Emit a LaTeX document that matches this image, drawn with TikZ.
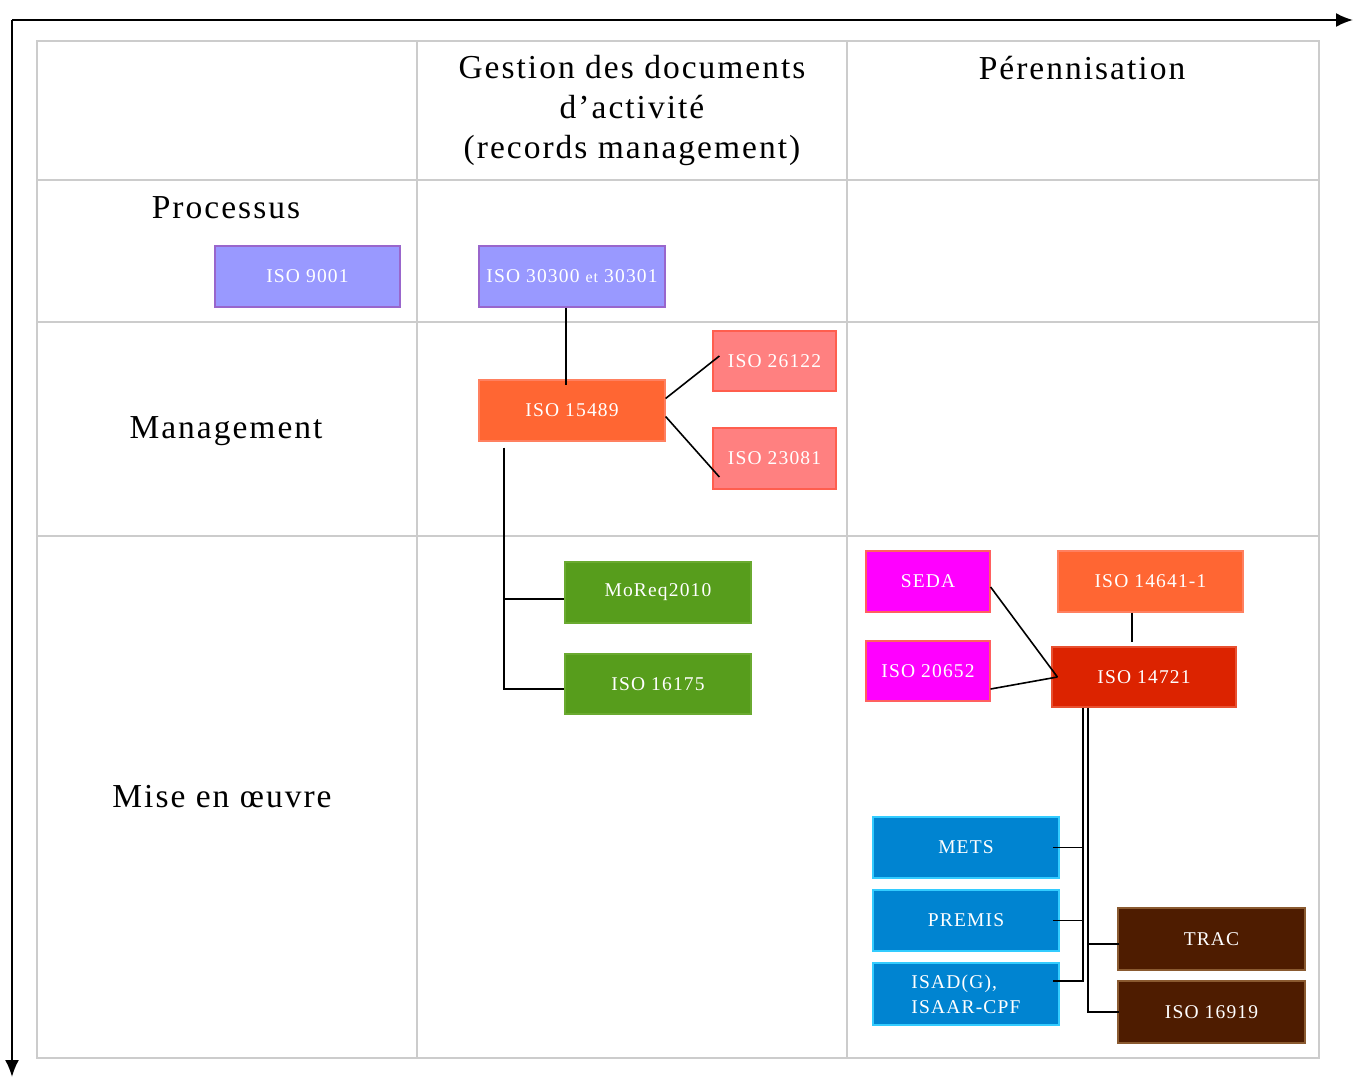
\documentclass[tikz,border=0pt]{standalone}
\usepackage{fontspec}
\setmainfont{Liberation Serif}[LetterSpace=6]
\usetikzlibrary{arrows.meta}
\definecolor{cLav}{HTML}{9999FF}
\definecolor{cLavB}{HTML}{9966CC}
\definecolor{cOra}{HTML}{FF6633}
\definecolor{cOraB}{HTML}{FF8060}
\definecolor{cSal}{HTML}{FF8080}
\definecolor{cSalB}{HTML}{FF5E4E}
\definecolor{cGre}{HTML}{579D1C}
\definecolor{cGreB}{HTML}{6AAA30}
\definecolor{cMag}{HTML}{FF00FF}
\definecolor{cMagB}{HTML}{FF6060}
\definecolor{cRed}{HTML}{DC2300}
\definecolor{cRedB}{HTML}{E85030}
\definecolor{cBlu}{HTML}{0084D1}
\definecolor{cBluB}{HTML}{33CCFF}
\definecolor{cBro}{HTML}{4E1C00}
\definecolor{cBroB}{HTML}{8A5A30}
\definecolor{cGrid}{HTML}{CCCCCC}
\tikzset{
  stdbox/.style={draw=#1B, fill=#1, line width=1.2pt, text=white, inner sep=2pt,
    font=\fontsize{19.5}{25}\selectfont},
  bw/.style 2 args={minimum width=#1pt, minimum height=#2pt},
  hdr/.style={font=\fontsize{33.5}{40}\selectfont, align=center, inner sep=0pt},
  conn/.style={draw=black, line width=1.6pt},
  axisline/.style={draw=black, line width=2pt, -{Latex[length=17pt,width=14pt]}},
  gridline/.style={draw=cGrid, line width=2pt}
}
\begin{document}
\begin{tikzpicture}[x=1pt,y=-1pt]
\useasboundingbox (0,0) rectangle (1353,1077);
% axes
\coordinate (origin) at (12,20);
\coordinate (xend) at (1353,20);
\coordinate (yend) at (12,1077);
\draw[axisline] (origin) -- (xend);
\draw[axisline] (origin) -- (yend);
% table grid
\draw[gridline] (37,41) rectangle (1319,1058);
\draw[gridline] (417,41) -- (417,1058);
\draw[gridline] (847,41) -- (847,1058);
\draw[gridline] (37,180) -- (1319,180);
\draw[gridline] (37,322) -- (1319,322);
\draw[gridline] (37,536) -- (1319,536);
% headers
\node[hdr] (hGestion) at (632,110) {Gestion des documents\\d'activité\\(records management)};
\node[hdr] (hPeren) at (1082,68) {Pérennisation};
\node[hdr] (hProc) at (226,208) {Processus};
\node[hdr] (hMan) at (226,431) {Management};
\node[hdr] (hMise) at (222,797) {Mise en œuvre};
% boxes
\node[stdbox=cLav, bw={185}{61}] (n9001) at (307.5,276.5) {ISO 9001};
\node[stdbox=cLav, bw={186}{61}] (n30300) at (572,276.5) {ISO 30300 {\fontsize{16}{16}\selectfont et} 30301};
\node[stdbox=cOra, bw={186}{61}] (n15489) at (572,410.5) {ISO 15489};
\node[stdbox=cSal, bw={123}{60}] (n26122) at (774.5,361) {ISO 26122};
\node[stdbox=cSal, bw={123}{61}] (n23081) at (774.5,458.5) {ISO 23081};
\node[stdbox=cGre, bw={186}{61}] (nMoReq) at (658,592.5) {MoReq2010};
\node[stdbox=cGre, bw={186}{60}] (n16175) at (658,684) {ISO 16175};
\node[stdbox=cMag, bw={124}{61}] (nSEDA) at (928,581.5) {SEDA};
\node[stdbox=cMag, bw={124}{60}] (n20652) at (928,671) {ISO 20652};
\node[stdbox=cOra, bw={185}{61}] (n14641) at (1150.5,581.5) {ISO 14641-1};
\node[stdbox=cRed, bw={184}{60}] (n14721) at (1144,677) {ISO 14721};
\node[stdbox=cBlu, bw={186}{61}] (nMETS) at (966,847.5) {METS};
\node[stdbox=cBlu, bw={186}{61}] (nPREMIS) at (966,920.5) {PREMIS};
\node[stdbox=cBlu, bw={186}{62}, align=left] (nISAD) at (966,994) {ISAD(G),\\ISAAR-CPF};
\node[stdbox=cBro, bw={187}{62}] (nTRAC) at (1211.5,939) {TRAC};
\node[stdbox=cBro, bw={187}{62}] (n16919) at (1211.5,1012) {ISO 16919};
% connectors
\draw[conn] ([xshift=-6pt]n30300.south) -- ([xshift=-6pt,yshift=-6pt]n15489.north);
\draw[conn] ([yshift=12pt]n15489.east) -- ([xshift=7pt,yshift=5pt]n26122.west);
\draw[conn] ([yshift=-6pt]n15489.east) -- ([xshift=7pt,yshift=-18.5pt]n23081.west);
\coordinate (tL) at ([xshift=-68pt,yshift=-6pt]n15489.south);
\draw[conn] (tL) |- ([yshift=-5pt]n16175.west);
\draw[conn] (tL |- nMoReq.west) ++(0,6.5) -- ([yshift=-6.5pt]nMoReq.west);
\draw[conn] ([yshift=-5.5pt]nSEDA.east) -- ([xshift=6pt]n14721.west);
\draw[conn] ([yshift=-18pt]n20652.east) -- ([xshift=6pt]n14721.west);
\draw[conn] ([xshift=-18.5pt]n14641.south) -- ([xshift=-12pt,yshift=4pt]n14721.north);
\coordinate (tA) at ([xshift=-61pt]n14721.south);
\coordinate (tB) at ([xshift=-56pt]n14721.south);
\draw[conn] (tA) |- ([xshift=-7pt,yshift=13pt]nISAD.east);
\draw[conn] (tA |- nMETS.east) -- ([xshift=-7pt]nMETS.east);
\draw[conn] (tA |- nPREMIS.east) -- ([xshift=-7pt]nPREMIS.east);
\draw[conn] (tB) |- ([xshift=2pt]n16919.west);
\draw[conn] (tB |- nTRAC.west) ++(0,5) -- ([xshift=2pt,yshift=-5pt]nTRAC.west);
\end{tikzpicture}
\end{document}
